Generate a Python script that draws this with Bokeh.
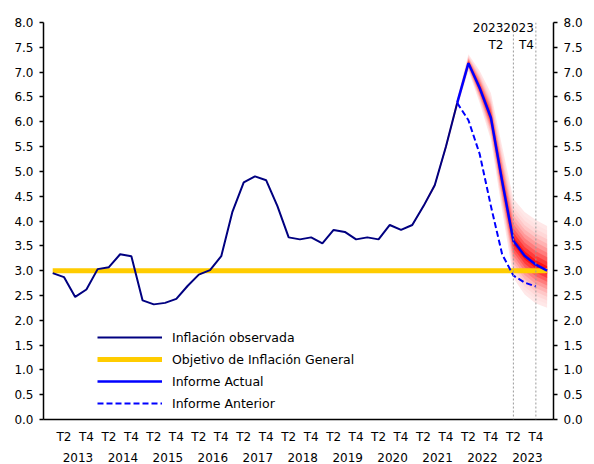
import numpy as np
from bokeh.plotting import figure
from bokeh.models import (Range1d, LinearAxis, FixedTicker, Span, Legend, LegendItem,
                          PrintfTickFormatter, Label)
from bokeh.embed import file_html
from bokeh.resources import INLINE

# ---------------- data ----------------
years = list(range(2013, 2024))
quarter_names = ["T1", "T2", "T3", "T4"]

# observed inflation, 2013 T1 ... 2022 T1 (quarter index 0..36)
observed = [2.95, 2.87, 2.47, 2.62, 3.03, 3.07, 3.33, 3.29, 2.40, 2.32,
            2.35, 2.43, 2.69, 2.92, 3.01, 3.29, 4.19, 4.78, 4.90, 4.82,
            4.30, 3.67, 3.63, 3.67, 3.55, 3.82, 3.78, 3.63, 3.67, 3.63,
            3.92, 3.82, 3.92, 4.30, 4.72, 5.50, 6.38]

# fan chart (2021 T1 ... 2024 T1, quarter index 32..44)
fan_start = 32
fan_center = [3.92, 4.30, 4.72, 5.50, 6.38, 7.18, 6.68, 6.08, 4.80, 3.60, 3.30, 3.12, 3.00]
fan_upper = [0.02, 0.03, 0.05, 0.07, 0.10, 0.18, 0.35, 0.50, 0.70, 0.85, 0.88, 0.90, 0.90]
fan_lower = [0.02, 0.03, 0.05, 0.07, 0.10, 0.15, 0.30, 0.45, 0.60, 0.75, 0.78, 0.78, 0.75]

# current report (2022 T1 ... 2024 T1)
actual_start = 36
informe_actual = [6.38, 7.18, 6.68, 6.08, 4.80, 3.60, 3.30, 3.12, 3.00]

# previous report (2022 T1 ... 2023 T4)
anterior_start = 36
informe_anterior = [6.38, 6.03, 5.35, 4.30, 3.33, 2.90, 2.76, 2.68]

# inflation target
target_value = 3.0
n_quarters = 45

marker_idx = [41, 43]
marker_year = ["2023", "2023"]
marker_quarter = ["T2", "T4"]

y_ticks = [i * 0.5 for i in range(17)]

# ---------------- figure ----------------
FONT = "DejaVu Sans"
FS = "12px"

p = figure(width=594, height=464, output_backend="svg", toolbar_location=None,
           x_range=Range1d(-0.82, 44.57), y_range=Range1d(0, 8),
           min_border_left=43, min_border_right=41, min_border_top=22,
           min_border_bottom=45)
p.grid.visible = False
p.outline_line_color = None
p.background_fill_color = "white"

x_all = np.arange(n_quarters)

# fan bands
fx = np.arange(fan_start, fan_start + len(fan_center))
fc = np.array(fan_center)
fu = np.array(fan_upper)
fl = np.array(fan_lower)
n_bands = 10
c_out = np.array([255, 232, 232])
c_in = np.array([255, 20, 20])
for k in range(n_bands):
    frac = (n_bands - k) / n_bands
    t = (k / (n_bands - 1)) ** 1.7
    c = (c_out + (c_in - c_out) * t).astype(int)
    col = "#%02x%02x%02x" % tuple(c)
    p.varea(x=fx, y1=fc - frac * fl, y2=fc + frac * fu, fill_color=col, fill_alpha=1.0)

# vertical dotted markers
for xi in marker_idx:
    p.add_layout(Span(location=xi, dimension="height", line_color="#9a9a9a",
                      line_dash="2 2", line_width=1))

r_target = p.line(x_all, [target_value] * n_quarters, line_color="#FFCC00", line_width=5)
r_obs = p.line(np.arange(len(observed)), observed, line_color="#000080", line_width=2)
r_ant = p.line(np.arange(anterior_start, anterior_start + len(informe_anterior)), informe_anterior,
               line_color="#0000FF", line_width=2, line_dash="6 3")
r_act = p.line(np.arange(actual_start, actual_start + len(informe_actual)), informe_actual,
               line_color="#0000FF", line_width=2.5)

# marker labels
for xi, yr, q, off in zip(marker_idx, marker_year, marker_quarter, [-10, -2]):
    p.add_layout(Label(x=xi, y=7.895, text=yr, text_align="right", text_baseline="middle",
                       x_offset=off, text_font=FONT, text_font_size=FS, text_color="black"))
    p.add_layout(Label(x=xi, y=7.54, text=q, text_align="right", text_baseline="middle",
                       x_offset=off, text_font=FONT, text_font_size=FS, text_color="black"))

# x axis: quarter labels (first row) + year labels (second row)
q_ticks, q_over, y_ticks_x, y_over = [], {}, [], {}
for i, yr in enumerate(years):
    base = i * 4
    q_ticks += [base + 1, base + 3]
    q_over[base + 1] = "T2"
    q_over[base + 3] = "T4"
    y_ticks_x.append(base + 2.25)
    y_over[base + 2.25] = str(yr)


def style_x(ax, ticks, over, standoff, line=True):
    ax.ticker = FixedTicker(ticks=ticks)
    ax.major_label_overrides = over
    ax.major_tick_line_color = None
    ax.minor_tick_line_color = None
    ax.axis_line_color = "black" if line else None
    ax.axis_line_width = 1.5
    ax.major_label_standoff = standoff
    ax.major_label_text_font = FONT
    ax.major_label_text_font_size = FS
    ax.major_label_text_color = "black"


style_x(p.xaxis[0], q_ticks, q_over, 4)
year_axis = LinearAxis()
style_x(year_axis, y_ticks_x, y_over, 0, line=False)
p.add_layout(year_axis, "below")


def style_y(ax):
    ax.ticker = FixedTicker(ticks=y_ticks)
    ax.formatter = PrintfTickFormatter(format="%.1f")
    ax.major_tick_out = 4
    ax.major_tick_in = 0
    ax.minor_tick_line_color = None
    ax.axis_line_color = "black"
    ax.axis_line_width = 1.5
    ax.major_tick_line_color = "black"
    ax.major_tick_line_width = 1.5
    ax.major_label_standoff = 6
    ax.major_label_text_font = FONT
    ax.major_label_text_font_size = FS
    ax.major_label_text_color = "black"


style_y(p.yaxis[0])
ry = LinearAxis()
style_y(ry)
p.add_layout(ry, "right")

legend = Legend(items=[
    LegendItem(label="Inflación observada", renderers=[r_obs]),
    LegendItem(label="Objetivo de Inflación General", renderers=[r_target]),
    LegendItem(label="Informe Actual", renderers=[r_act]),
    LegendItem(label="Informe Anterior", renderers=[r_ant]),
], location=(54, 6), glyph_width=65, glyph_height=20, label_height=20, spacing=2,
    padding=0, margin=0, label_standoff=10, border_line_color=None,
    background_fill_alpha=0, label_text_font=FONT, label_text_font_size="12.5px",
    label_text_color="black")
p.add_layout(legend)

open("out.html", "w").write(file_html(p, INLINE))
